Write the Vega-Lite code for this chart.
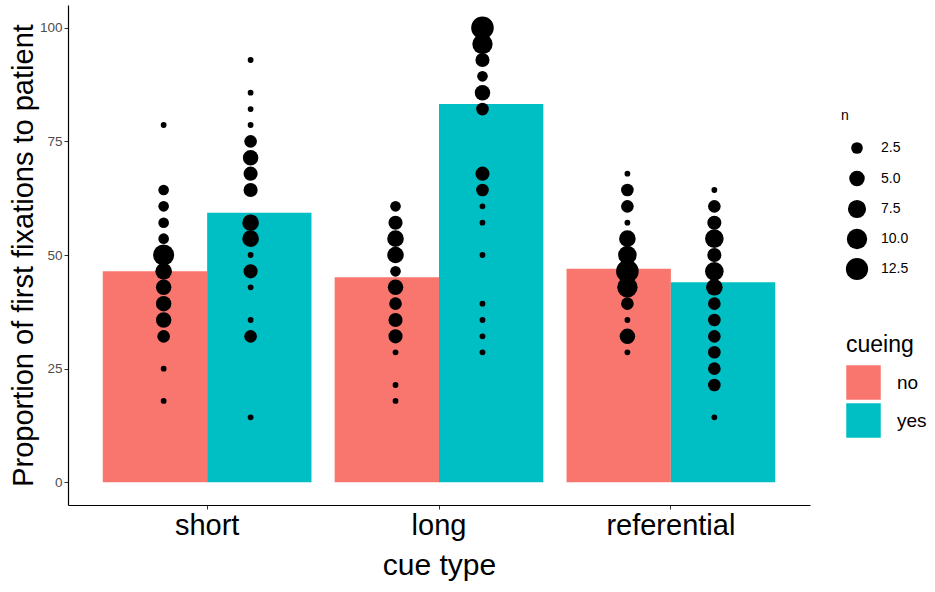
{
  "$schema": "https://vega.github.io/schema/vega-lite/v6.json",
  "width": 742,
  "height": 500,
  "autosize": {"type": "none"},
  "padding": {"left": 68, "top": 5, "right": 125, "bottom": 87},
  "config": {
    "view": {"stroke": null},
    "font": "Liberation Sans",
    "axis": {
      "grid": false,
      "domainColor": "black",
      "domainWidth": 1.2,
      "tickColor": "#333333",
      "tickSize": 4,
      "labelFont": "Liberation Sans",
      "titleFont": "Liberation Sans",
      "titleFontWeight": "normal",
      "titleColor": "black"
    },
    "legend": {
      "titleFont": "Liberation Sans",
      "labelFont": "Liberation Sans",
      "titleFontWeight": "normal",
      "titleColor": "black",
      "labelColor": "black",
      "padding": 0
    }
  },
  "datasets": {
    "bars": [
      {"cue": "short", "cueing": "no", "proportion": 46.4},
      {"cue": "short", "cueing": "yes", "proportion": 59.3},
      {"cue": "long", "cueing": "no", "proportion": 45.1},
      {"cue": "long", "cueing": "yes", "proportion": 83.2},
      {"cue": "referential", "cueing": "no", "proportion": 47.0},
      {"cue": "referential", "cueing": "yes", "proportion": 44.0}
    ],
    "points": [
      {"cue": "short", "cueing": "no", "proportion": 78.6, "n": 1},
      {"cue": "short", "cueing": "no", "proportion": 64.3, "n": 2},
      {"cue": "short", "cueing": "no", "proportion": 60.7, "n": 2},
      {"cue": "short", "cueing": "no", "proportion": 57.1, "n": 2},
      {"cue": "short", "cueing": "no", "proportion": 53.6, "n": 2},
      {"cue": "short", "cueing": "no", "proportion": 50.0, "n": 11},
      {"cue": "short", "cueing": "no", "proportion": 46.4, "n": 6},
      {"cue": "short", "cueing": "no", "proportion": 42.9, "n": 5},
      {"cue": "short", "cueing": "no", "proportion": 39.3, "n": 5},
      {"cue": "short", "cueing": "no", "proportion": 35.7, "n": 5},
      {"cue": "short", "cueing": "no", "proportion": 32.1, "n": 3},
      {"cue": "short", "cueing": "no", "proportion": 25.0, "n": 1},
      {"cue": "short", "cueing": "no", "proportion": 17.9, "n": 1},
      {"cue": "short", "cueing": "yes", "proportion": 92.9, "n": 1},
      {"cue": "short", "cueing": "yes", "proportion": 85.7, "n": 1},
      {"cue": "short", "cueing": "yes", "proportion": 82.1, "n": 1},
      {"cue": "short", "cueing": "yes", "proportion": 78.6, "n": 1},
      {"cue": "short", "cueing": "yes", "proportion": 75.0, "n": 3},
      {"cue": "short", "cueing": "yes", "proportion": 71.4, "n": 5},
      {"cue": "short", "cueing": "yes", "proportion": 67.9, "n": 4},
      {"cue": "short", "cueing": "yes", "proportion": 64.3, "n": 4},
      {"cue": "short", "cueing": "yes", "proportion": 57.1, "n": 6},
      {"cue": "short", "cueing": "yes", "proportion": 53.6, "n": 6},
      {"cue": "short", "cueing": "yes", "proportion": 50.0, "n": 1},
      {"cue": "short", "cueing": "yes", "proportion": 46.4, "n": 4},
      {"cue": "short", "cueing": "yes", "proportion": 42.9, "n": 1},
      {"cue": "short", "cueing": "yes", "proportion": 35.7, "n": 1},
      {"cue": "short", "cueing": "yes", "proportion": 32.1, "n": 3},
      {"cue": "short", "cueing": "yes", "proportion": 14.3, "n": 1},
      {"cue": "long", "cueing": "no", "proportion": 60.7, "n": 2},
      {"cue": "long", "cueing": "no", "proportion": 57.1, "n": 4},
      {"cue": "long", "cueing": "no", "proportion": 53.6, "n": 6},
      {"cue": "long", "cueing": "no", "proportion": 50.0, "n": 6},
      {"cue": "long", "cueing": "no", "proportion": 46.4, "n": 2},
      {"cue": "long", "cueing": "no", "proportion": 42.9, "n": 5},
      {"cue": "long", "cueing": "no", "proportion": 39.3, "n": 3},
      {"cue": "long", "cueing": "no", "proportion": 35.7, "n": 4},
      {"cue": "long", "cueing": "no", "proportion": 32.1, "n": 4},
      {"cue": "long", "cueing": "no", "proportion": 28.6, "n": 1},
      {"cue": "long", "cueing": "no", "proportion": 21.4, "n": 1},
      {"cue": "long", "cueing": "no", "proportion": 17.9, "n": 1},
      {"cue": "long", "cueing": "yes", "proportion": 100.0, "n": 13},
      {"cue": "long", "cueing": "yes", "proportion": 96.4, "n": 10},
      {"cue": "long", "cueing": "yes", "proportion": 92.9, "n": 4},
      {"cue": "long", "cueing": "yes", "proportion": 89.3, "n": 2},
      {"cue": "long", "cueing": "yes", "proportion": 85.7, "n": 5},
      {"cue": "long", "cueing": "yes", "proportion": 82.1, "n": 3},
      {"cue": "long", "cueing": "yes", "proportion": 67.9, "n": 4},
      {"cue": "long", "cueing": "yes", "proportion": 64.3, "n": 3},
      {"cue": "long", "cueing": "yes", "proportion": 60.7, "n": 1},
      {"cue": "long", "cueing": "yes", "proportion": 57.1, "n": 1},
      {"cue": "long", "cueing": "yes", "proportion": 50.0, "n": 1},
      {"cue": "long", "cueing": "yes", "proportion": 39.3, "n": 1},
      {"cue": "long", "cueing": "yes", "proportion": 35.7, "n": 1},
      {"cue": "long", "cueing": "yes", "proportion": 32.1, "n": 1},
      {"cue": "long", "cueing": "yes", "proportion": 28.6, "n": 1},
      {"cue": "referential", "cueing": "no", "proportion": 67.9, "n": 1},
      {"cue": "referential", "cueing": "no", "proportion": 64.3, "n": 3},
      {"cue": "referential", "cueing": "no", "proportion": 60.7, "n": 3},
      {"cue": "referential", "cueing": "no", "proportion": 57.1, "n": 1},
      {"cue": "referential", "cueing": "no", "proportion": 53.6, "n": 6},
      {"cue": "referential", "cueing": "no", "proportion": 50.0, "n": 8},
      {"cue": "referential", "cueing": "no", "proportion": 46.4, "n": 13},
      {"cue": "referential", "cueing": "no", "proportion": 42.9, "n": 10},
      {"cue": "referential", "cueing": "no", "proportion": 39.3, "n": 3},
      {"cue": "referential", "cueing": "no", "proportion": 35.7, "n": 1},
      {"cue": "referential", "cueing": "no", "proportion": 32.1, "n": 5},
      {"cue": "referential", "cueing": "no", "proportion": 28.6, "n": 1},
      {"cue": "referential", "cueing": "yes", "proportion": 64.3, "n": 1},
      {"cue": "referential", "cueing": "yes", "proportion": 60.7, "n": 3},
      {"cue": "referential", "cueing": "yes", "proportion": 57.1, "n": 4},
      {"cue": "referential", "cueing": "yes", "proportion": 53.6, "n": 8},
      {"cue": "referential", "cueing": "yes", "proportion": 50.0, "n": 4},
      {"cue": "referential", "cueing": "yes", "proportion": 46.4, "n": 8},
      {"cue": "referential", "cueing": "yes", "proportion": 42.9, "n": 6},
      {"cue": "referential", "cueing": "yes", "proportion": 39.3, "n": 3},
      {"cue": "referential", "cueing": "yes", "proportion": 35.7, "n": 3},
      {"cue": "referential", "cueing": "yes", "proportion": 32.1, "n": 3},
      {"cue": "referential", "cueing": "yes", "proportion": 28.6, "n": 3},
      {"cue": "referential", "cueing": "yes", "proportion": 25.0, "n": 3},
      {"cue": "referential", "cueing": "yes", "proportion": 21.4, "n": 3},
      {"cue": "referential", "cueing": "yes", "proportion": 14.3, "n": 1}
    ]
  },
  "encoding": {
    "x": {
      "field": "cue",
      "type": "nominal",
      "scale": {"type": "band", "domain": ["short", "long", "referential"], "paddingInner": 0.1, "paddingOuter": 0.15},
      "axis": {
        "title": "cue type",
        "titleFontSize": 30,
        "titlePadding": 10,
        "labelFontSize": 29,
        "labelColor": "black",
        "labelAngle": 0,
        "labelPadding": 2
      }
    },
    "y": {
      "field": "proportion",
      "type": "quantitative",
      "scale": {"domain": [-5, 105], "nice": false, "zero": false},
      "axis": {
        "title": "Proportion of first fixations to patient",
        "values": [0, 25, 50, 75, 100],
        "titleFontSize": 29,
        "titlePadding": 1,
        "labelFontSize": 13.5,
        "labelColor": "#4d4d4d",
        "labelPadding": 2
      }
    }
  },
  "layer": [
    {
      "data": {"name": "bars"},
      "mark": {"type": "bar"},
      "encoding": {
        "y2": {"datum": 0},
        "xOffset": {"field": "cueing", "type": "nominal", "scale": {"paddingInner": 0, "paddingOuter": 0}},
        "color": {
          "field": "cueing",
          "type": "nominal",
          "scale": {"domain": ["no", "yes"], "range": ["#F8766D", "#00BFC4"]},
          "legend": {
            "orient": "none",
            "legendX": 778,
            "legendY": 329,
            "title": "cueing",
            "titleFontSize": 23,
            "titlePadding": 8,
            "labelFontSize": 19,
            "symbolType": "square",
            "symbolSize": 1190,
            "symbolStrokeWidth": 0,
            "symbolOpacity": 1,
            "rowPadding": 3,
            "labelOffset": 16
          }
        }
      }
    },
    {
      "data": {"name": "points"},
      "mark": {"type": "point", "filled": true, "color": "black", "opacity": 1, "strokeWidth": 0},
      "encoding": {
        "xOffset": {"field": "cueing", "type": "nominal", "scale": {"type": "point", "domain": ["no", "yes"], "padding": 0.7}},
        "size": {
          "field": "n",
          "type": "quantitative",
          "scale": {"type": "linear", "domain": [1, 2, 3, 5, 7, 10, 13], "range": [33.2, 113, 159.7, 239.7, 312, 413.7, 510.7]},
          "legend": {
            "orient": "none",
            "legendX": 773,
            "legendY": 104,
            "title": "n",
            "titleFontSize": 14,
            "titlePadding": 18,
            "labelFontSize": 14,
            "values": [2.5, 5, 7.5, 10, 12.5],
            "format": ".1f",
            "gridAlign": "all",
            "symbolOffset": 4,
            "labelOffset": 12,
            "rowPadding": -1
          }
        }
      }
    }
  ],
  "resolve": {"scale": {"xOffset": "independent"}}
}
